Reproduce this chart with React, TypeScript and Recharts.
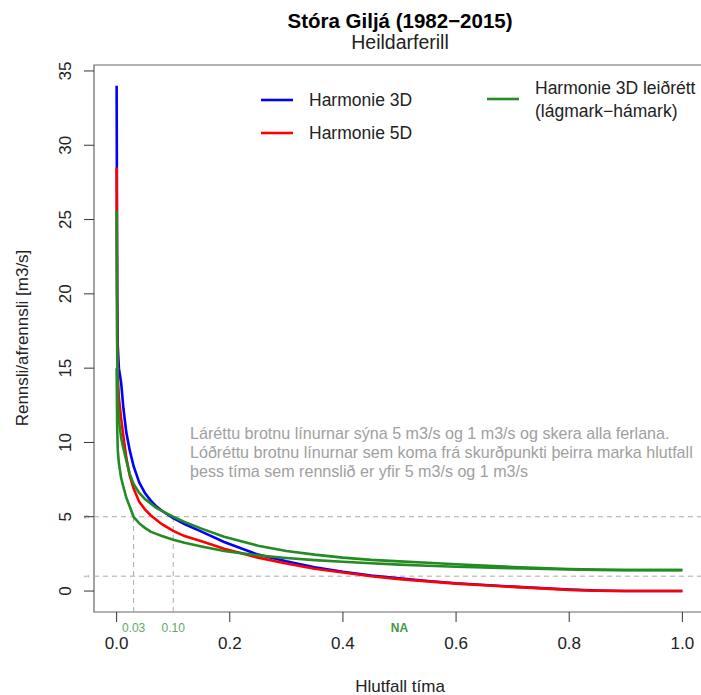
import React from 'react';
import { LineChart, Line, XAxis, YAxis, ReferenceLine, ReferenceArea, ReferenceDot } from 'recharts';

const durationFraction = [0, 0.001, 0.002, 0.004, 0.008, 0.012, 0.017, 0.023, 0.03, 0.04, 0.05, 0.06, 0.07, 0.08, 0.1, 0.12, 0.15, 0.19, 0.25, 0.3, 0.35, 0.4, 0.45, 0.5, 0.55, 0.6, 0.7, 0.8, 0.85, 0.9, 1.0];
const harmonie3D = [34.0, 20.0, 16.5, 15.0, 14.0, 12.3, 10.7, 9.5, 8.4, 7.3, 6.6, 6.1, 5.7, 5.4, 4.9, 4.5, 4.0, 3.3, 2.45, 2.0, 1.6, 1.3, 1.05, 0.85, 0.68, 0.52, 0.3, 0.1, 0.03, 0.0, 0.0];
const harmonie5D = [28.5, 17.0, 14.5, 13.0, 11.6, 10.4, 9.0, 7.8, 6.9, 6.0, 5.5, 5.1, 4.8, 4.5, 4.05, 3.7, 3.35, 2.85, 2.25, 1.85, 1.5, 1.25, 1.0, 0.8, 0.65, 0.5, 0.28, 0.08, 0.02, 0.0, 0.0];
const harmonie3DCorrMax = [25.6, 16.0, 13.0, 11.5, 10.3, 9.6, 8.8, 7.9, 7.2, 6.6, 6.2, 5.9, 5.6, 5.4, 5.0, 4.65, 4.2, 3.65, 3.05, 2.7, 2.45, 2.25, 2.1, 2.0, 1.9, 1.8, 1.62, 1.48, 1.44, 1.42, 1.42];
const harmonie3DCorrMin = [15.0, 11.0, 9.5, 8.6, 7.6, 7.0, 6.3, 5.7, 5.0, 4.55, 4.25, 4.0, 3.85, 3.7, 3.45, 3.25, 3.0, 2.7, 2.4, 2.22, 2.08, 1.97, 1.87, 1.78, 1.7, 1.64, 1.53, 1.45, 1.42, 1.41, 1.41];

const xTicks = [0, 0.2, 0.4, 0.6, 0.8, 1.0];
const yTicks = [0, 5, 10, 15, 20, 25, 30, 35];
const thresholds = [5, 1];
const exceedanceFractions = [0.03, 0.1];
const exceedanceLabels = ['0.03', '0.10'];
const naPosition = 0.5;
const naLabel = 'NA';

const X_DOMAIN: [number, number] = [-0.04, 1.04];
const Y_DOMAIN: [number, number] = [-1.41, 35.4];

const data = durationFraction.map((x, i) => ({
  x,
  h3: harmonie3D[i],
  h5: harmonie5D[i],
  gMax: harmonie3DCorrMax[i],
  gMin: harmonie3DCorrMin[i],
}));

const FONT = '"Liberation Sans", Arial, sans-serif';
const GREEN = '#228B22';
const LW = 2.6;

const XTick = (p: any) => (
  <text x={p.x} y={643} textAnchor="middle" dominantBaseline="central" fontSize={17} fontFamily={FONT} fill="#222">
    {Number(p.payload.value).toFixed(1)}
  </text>
);

const YTick = (p: any) => (
  <text x={66} y={p.y} transform={`rotate(-90, 66, ${p.y})`} textAnchor="middle" dominantBaseline="central" fontSize={17} fontFamily={FONT} fill="#222">
    {p.payload.value}
  </text>
);

export default function App() {
  return (
    <div style={{ position: 'absolute', left: 0, top: 0, width: 701, height: 695, overflow: 'hidden', background: '#fff' }}>
      <LineChart width={710} height={695} data={data} margin={{ top: 65, right: 5, bottom: 0, left: 0 }}>
        <XAxis
          type="number"
          dataKey="x"
          domain={X_DOMAIN}
          ticks={xTicks}
          allowDataOverflow
          axisLine={false}
          tickLine={{ stroke: '#333' }}
          tickSize={10}
          height={83}
          tick={XTick}
          interval={0}
        />
        <YAxis
          type="number"
          domain={Y_DOMAIN}
          ticks={yTicks}
          allowDataOverflow
          axisLine={false}
          tickLine={{ stroke: '#333' }}
          tickSize={10}
          width={94}
          tick={YTick}
          interval={0}
        />
        {thresholds.map((t) => (
          <ReferenceLine
            key={'h' + t}
            y={t}
            stroke="#aaa"
            strokeDasharray="5 4"
            ifOverflow="visible"
            label={(lp: any) => {
              const vb = lp.viewBox || {};
              const lx = (vb.x ?? 94) - 7;
              const ly = vb.y ?? 0;
              return (
                <text x={lx} y={ly} transform={`rotate(-90, ${lx}, ${ly})`} textAnchor="middle" dominantBaseline="central" fontSize={8} fontFamily={FONT} fill="#aaa">
                  {t}
                </text>
              );
            }}
          />
        ))}
        {exceedanceFractions.map((f, i) => (
          <ReferenceLine
            key={'v' + f}
            segment={[{ x: f, y: Y_DOMAIN[0] }, { x: f, y: thresholds[0] }]}
            stroke="#aaa"
            strokeDasharray="5 4"
            ifOverflow="visible"
            label={(lp: any) => {
              const vb = lp.viewBox || {};
              const lx = vb.x ?? 0;
              const ly = (vb.y ?? 0) + (vb.height ?? 0) + 16;
              return (
                <text x={lx} y={ly} textAnchor="middle" dominantBaseline="central" fontSize={12} fontFamily={FONT} fill="#5fa85f">
                  {exceedanceLabels[i]}
                </text>
              );
            }}
          />
        ))}
        <ReferenceDot
          x={naPosition}
          y={Y_DOMAIN[0]}
          r={0}
          fill="none"
          stroke="none"
          ifOverflow="visible"
          label={(lp: any) => {
            const vb = lp.viewBox || {};
            const lx = (vb.x ?? 0) + (vb.width ?? 0) / 2;
            const ly = (vb.y ?? 0) + (vb.height ?? 0) / 2 + 16;
            return (
              <text x={lx} y={ly} textAnchor="middle" dominantBaseline="central" fontSize={12} fontWeight="bold" fontFamily={FONT} fill="#3d9a3d">
                {naLabel}
              </text>
            );
          }}
        />
        <Line type="linear" dataKey="h3" stroke="#0000FF" strokeWidth={LW} dot={false} isAnimationActive={false} />
        <Line type="linear" dataKey="h5" stroke="#FF0000" strokeWidth={LW} dot={false} isAnimationActive={false} />
        <Line type="linear" dataKey="gMax" stroke={GREEN} strokeWidth={LW} dot={false} isAnimationActive={false} />
        <Line type="linear" dataKey="gMin" stroke={GREEN} strokeWidth={LW} dot={false} isAnimationActive={false} />
        <ReferenceArea x1={X_DOMAIN[0]} x2={X_DOMAIN[1]} y1={Y_DOMAIN[0]} y2={Y_DOMAIN[1]} fill="none" fillOpacity={0} stroke="#666" strokeWidth={1.2} ifOverflow="visible" />
      </LineChart>
      <svg width={701} height={695} style={{ position: 'absolute', left: 0, top: 0, pointerEvents: 'none' }} fontFamily={FONT}>
        <text x={400} y={20} textAnchor="middle" dominantBaseline="central" fontSize={20.5} fontWeight="bold" fill="#000">Stóra Giljá (1982−2015)</text>
        <text x={400} y={42} textAnchor="middle" dominantBaseline="central" fontSize={19.5} fill="#222">Heildarferill</text>

        <line x1={261} x2={293} y1={100} y2={100} stroke="#0000FF" strokeWidth={LW} />
        <text x={309} y={100} dominantBaseline="central" fontSize={17.5} fill="#222">Harmonie 3D</text>
        <line x1={261} x2={293} y1={133} y2={133} stroke="#FF0000" strokeWidth={LW} />
        <text x={309} y={133} dominantBaseline="central" fontSize={17.5} fill="#222">Harmonie 5D</text>
        <line x1={487} x2={519} y1={99} y2={99} stroke={GREEN} strokeWidth={LW} />
        <text x={535} y={88} dominantBaseline="central" fontSize={17.5} fill="#222">Harmonie 3D leiðrétt</text>
        <text x={535} y={111} dominantBaseline="central" fontSize={17.5} fill="#222">(lágmark−hámark)</text>

        <text x={190} y={433} dominantBaseline="central" fontSize={16.1} fill="#a0a0a0">Láréttu brotnu línurnar sýna 5 m3/s og 1 m3/s og skera alla ferlana.</text>
        <text x={190} y={452} dominantBaseline="central" fontSize={16.1} fill="#a0a0a0">Lóðréttu brotnu línurnar sem koma frá skurðpunkti þeirra marka hlutfall</text>
        <text x={190} y={471} dominantBaseline="central" fontSize={16.1} fill="#a0a0a0">þess tíma sem rennslið er yfir 5 m3/s og 1 m3/s</text>

        <text x={22} y={338} transform="rotate(-90, 22, 338)" textAnchor="middle" dominantBaseline="central" fontSize={17} fill="#222">Rennsli/afrennsli [m3/s]</text>
        <text x={400} y={686} textAnchor="middle" dominantBaseline="central" fontSize={17} fill="#222">Hlutfall tíma</text>
      </svg>
    </div>
  );
}
